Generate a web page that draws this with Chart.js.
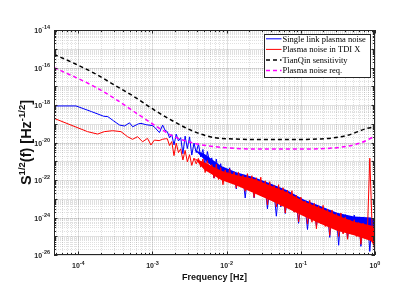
<!DOCTYPE html>
<html>
<head>
<meta charset="utf-8">
<script src="https://cdn.jsdelivr.net/npm/chart.js@4.4.0/dist/chart.umd.min.js"></script>
<style>
  html, body { margin: 0; padding: 0; background: #ffffff; }
  #plasmaChart { display: block; }
</style>
</head>
<body>
<canvas id="plasmaChart" width="415" height="301"></canvas>
<script>
/* ============================================
   PLASMA NOISE vs TIANQIN SENSITIVITY (log-log)
   values are log10 of S^{1/2}(f) in Hz^{-1/2}
   ============================================ */

// Single link plasma noise, low-frequency part
const blueLowFreq = [4.7e-5, 9.3e-5, 1.5e-4, 2.2e-4, 2.5e-4, 3.0e-4, 3.6e-4, 4.2e-4, 4.9e-4, 5.4e-4, 6.5e-4, 7.0e-4, 8.2e-4, 1.0e-3, 1.07e-3, 1.24e-3, 1.37e-3, 1.48e-3];
const blueLowLog = [-18.05, -18.05, -18.35, -18.6, -18.62, -18.85, -19.07, -19.12, -18.95, -19.16, -19.0, -18.98, -19.05, -19.1, -19.19, -19.47, -19.07, -19.35];

// Plasma noise in TDI X, low-frequency part
const redLowFreq = [4.7e-5, 1.33e-4, 1.82e-4, 2.24e-4, 2.9e-4, 3.76e-4, 4.61e-4, 5.38e-4, 6.3e-4, 7.35e-4, 8.57e-4, 9.53e-4, 1.06e-3, 1.23e-3, 1.36e-3, 1.49e-3];
const redLowLog = [-18.71, -19.42, -19.55, -19.42, -19.37, -19.42, -19.69, -19.83, -19.69, -19.96, -19.78, -20.13, -19.87, -19.9, -19.83, -19.8];

// Noisy high-frequency part (shared frequency bins)
const noiseFreq = [1.585e-3, 1.698e-3, 1.820e-3, 1.950e-3, 2.089e-3, 2.239e-3, 2.399e-3, 2.570e-3, 2.754e-3, 2.951e-3,
    3.162e-3, 3.388e-3, 3.631e-3, 3.890e-3, 4.169e-3, 4.467e-3, 4.786e-3, 5.129e-3, 5.495e-3, 5.888e-3,
    6.310e-3, 6.761e-3, 7.244e-3, 7.762e-3, 8.318e-3, 8.913e-3, 9.550e-3, 1.023e-2, 1.096e-2, 1.175e-2,
    1.259e-2, 1.349e-2, 1.445e-2, 1.549e-2, 1.660e-2, 1.778e-2, 1.905e-2, 2.042e-2, 2.188e-2, 2.344e-2,
    2.512e-2, 2.692e-2, 2.884e-2, 3.090e-2, 3.311e-2, 3.548e-2, 3.802e-2, 4.074e-2, 4.365e-2, 4.677e-2,
    5.012e-2, 5.370e-2, 5.754e-2, 6.166e-2, 6.607e-2, 7.079e-2, 7.586e-2, 8.128e-2, 8.710e-2, 9.333e-2,
    0.1, 0.1072, 0.1148, 0.1230, 0.1318, 0.1413, 0.1514, 0.1622, 0.1738, 0.1862,
    0.1995, 0.2138, 0.2291, 0.2455, 0.2630, 0.2818, 0.3020, 0.3236, 0.3467, 0.3715,
    0.3981, 0.4266, 0.4571, 0.4898, 0.5248, 0.5623, 0.6026, 0.6457, 0.6918, 0.7413,
    0.7943, 0.8511, 0.9120, 0.9772, 1.0];

const blueNoiseLog = [-19.42, -19.75, -19.58, -20.13, -19.55, -19.92, -19.74, -20.6, -19.66, -20.32,
    -19.7, -20.67, -20.03, -20.54, -20.07, -20.77, -20.37, -21.32, -20.48, -21.03,
    -20.82, -21.9, -20.88, -21.63, -21.13, -21.99, -21.4, -21.78, -21.35, -21.94,
    -21.58, -22.48, -21.62, -22.06, -21.88, -22.96, -21.88, -22.56, -21.91, -22.95,
    -22.18, -22.7, -22.15, -22.89, -22.38, -23.54, -22.43, -22.97, -22.7, -23.93,
    -22.7, -23.44, -22.74, -23.79, -23.01, -23.52, -22.98, -23.7, -23.22, -24.31,
    -23.26, -23.76, -23.52, -24.64, -23.47, -24.15, -23.46, -24.46, -23.68, -24.17,
    -23.6, -24.36, -23.8, -25.06, -23.8, -24.42, -23.95, -25.48, -23.9, -24.82,
    -23.85, -25.13, -23.98, -24.74, -23.87, -24.86, -24.01, -25.54, -23.97, -24.75,
    -24.14, -25.81, -24.13, -25.22, -24.3];

const redNoiseLog = [-19.8, -20.16, -19.95, -20.7, -20.03, -20.54, -20.34, -20.93, -20.42, -21.03,
    -20.65, -21.22, -20.83, -21.14, -20.85, -21.31, -20.88, -21.6, -20.96, -21.54,
    -21.18, -21.9, -21.16, -21.97, -21.34, -22.25, -21.46, -22.07, -21.41, -22.16,
    -21.58, -22.43, -21.59, -22.23, -21.74, -22.6, -21.66, -22.59, -21.77, -22.93,
    -21.88, -22.72, -21.85, -22.88, -22.04, -23.33, -22.09, -22.98, -22.28, -23.44,
    -22.25, -23.39, -22.41, -23.76, -22.55, -23.51, -22.57, -23.72, -22.81, -24.23,
    -22.91, -23.87, -23.12, -24.35, -23.08, -24.25, -23.24, -24.6, -23.38, -24.32,
    -23.35, -24.48, -23.56, -24.95, -23.6, -24.55, -23.8, -25.01, -23.76, -24.88,
    -23.97, -25.16, -24.12, -24.89, -24.12, -25.01, -24.27, -25.43, -24.3, -25.05,
    -24.45, -20.84, -24.44, -25.58, -25.9];

// Dense core of the noise, where the spectra fill a band
const bandFreq = [3.7e-3, 4.98e-3, 8.44e-3, 1.38e-2, 2.35e-2, 3.97e-2, 6.53e-2, 0.111, 0.187, 0.308, 0.521, 0.883, 1.0];
const blueBandHi = [-20.4, -20.6, -21.25, -21.6, -21.85, -22.2, -22.55, -23.05, -23.4, -23.75, -23.95, -24.0, -24.2];
const blueBandLo = [-20.4, -20.9, -21.7, -22.1, -22.6, -23.0, -23.4, -23.8, -24.2, -24.6, -24.8, -25.0, -25.1];
const redBandHi = [-20.85, -21.05, -21.5, -21.75, -21.95, -22.3, -22.65, -23.15, -23.5, -23.88, -24.22, -24.42, -24.5];
const redBandLo = [-20.85, -21.45, -22.0, -22.3, -22.7, -23.1, -23.5, -23.95, -24.35, -24.7, -24.95, -25.25, -25.6];

// TianQin sensitivity
const sensFreq = [4.7e-5, 8.8e-5, 1.65e-4, 3.05e-4, 5.68e-4, 1.06e-3, 1.96e-3, 3.65e-3, 6.79e-3, 1.26e-2, 2.34e-2, 6.6e-2, 0.186, 0.424, 0.787, 1.0];
const sensLog = [-15.30, -15.78, -16.31, -16.93, -17.56, -18.27, -18.89, -19.42, -19.74, -19.81, -19.84, -19.84, -19.81, -19.62, -19.24, -19.16];

// Plasma noise requirement
const reqFreq = [4.7e-5, 8.8e-5, 1.65e-4, 3.05e-4, 5.68e-4, 1.06e-3, 1.96e-3, 3.65e-3, 6.79e-3, 1.26e-2, 2.34e-2, 6.6e-2, 0.186, 0.424, 0.66, 0.85, 1.0];
const reqLog = [-16.01, -16.49, -17.02, -17.64, -18.36, -19.07, -19.69, -20.04, -20.22, -20.31, -20.35, -20.35, -20.33, -20.2, -20.0, -19.8, -19.65];

// Axis ticks
const xTickValues = [1e-4, 1e-3, 1e-2, 1e-1, 1];
const xTickExp = ['-4', '-3', '-2', '-1', '0'];
const yTickValues = [1e-26, 1e-24, 1e-22, 1e-20, 1e-18, 1e-16, 1e-14];
const yTickExp = ['-26', '-24', '-22', '-20', '-18', '-16', '-14'];

const INK = '#262626';

function toPoints(freqs, logs) {
    return freqs.map((f, i) => ({ x: f, y: Math.pow(10, logs[i]) }));
}

// major (decade) and minor (2..9) tick values inside [min, max]
function logTicks(min, max) {
    const major = [], minor = [];
    for (let e = Math.floor(Math.log10(min)); e <= Math.ceil(Math.log10(max)); e++) {
        for (let m = 1; m < 10; m++) {
            const v = m * Math.pow(10, e);
            if (v < min * 0.999 || v > max * 1.001) continue;
            (m === 1 ? major : minor).push(v);
        }
    }
    return { major, minor };
}

function drawPower(ctx, exp, anchorX, tickY, align, baseDy, supDy) {
    const baseFont = 'bold 7px "Liberation Sans", Arial, sans-serif';
    const supFont = 'bold 5.5px "Liberation Sans", Arial, sans-serif';
    ctx.font = baseFont;
    const w1 = ctx.measureText('10').width;
    ctx.font = supFont;
    const w2 = ctx.measureText(exp).width;
    let left = align === 'right' ? anchorX - w1 - w2 : anchorX - (w1 + w2) / 2;
    ctx.textAlign = 'left';
    ctx.textBaseline = 'middle';
    ctx.font = baseFont;
    ctx.fillText('10', left, tickY + baseDy);
    ctx.font = supFont;
    ctx.fillText(exp, left + w1, tickY + supDy);
}

const plasmaFrame = {
    id: 'plasmaFrame',
    beforeDraw(chart) {
        const ctx = chart.ctx;
        ctx.save();
        ctx.fillStyle = '#ffffff';
        ctx.fillRect(0, 0, chart.width, chart.height);
        ctx.restore();
    },
    beforeDatasetsDraw(chart) {
        const { ctx, chartArea: a, scales: { x, y } } = chart;
        const xt = logTicks(x.min, x.max);
        const yt = logTicks(y.min, y.max);
        ctx.save();
        ctx.lineWidth = 1;

        // minor grid (dotted)
        ctx.strokeStyle = 'rgba(38,38,38,0.14)';
        ctx.setLineDash([1, 1]);
        ctx.beginPath();
        xt.minor.forEach(v => {
            const px = Math.round(x.getPixelForValue(v)) + 0.5;
            ctx.moveTo(px, a.top); ctx.lineTo(px, a.bottom);
        });
        yt.minor.forEach(v => {
            const py = Math.round(y.getPixelForValue(v)) + 0.5;
            ctx.moveTo(a.left, py); ctx.lineTo(a.right, py);
        });
        ctx.stroke();

        // major grid
        ctx.setLineDash([]);
        ctx.strokeStyle = 'rgba(38,38,38,0.14)';
        ctx.beginPath();
        xt.major.forEach(v => {
            const px = Math.round(x.getPixelForValue(v)) + 0.5;
            ctx.moveTo(px, a.top); ctx.lineTo(px, a.bottom);
        });
        yt.major.forEach(v => {
            const py = Math.round(y.getPixelForValue(v)) + 0.5;
            ctx.moveTo(a.left, py); ctx.lineTo(a.right, py);
        });
        ctx.stroke();
        ctx.restore();
    },
    afterDatasetsDraw(chart) {
        const { ctx, chartArea: a, scales: { x, y } } = chart;
        const xt = logTicks(x.min, x.max);
        const yt = logTicks(y.min, y.max);
        ctx.save();

        // box
        ctx.strokeStyle = INK;
        ctx.lineWidth = 1;
        ctx.strokeRect(a.left + 0.5, a.top + 0.5, a.right - a.left - 1, a.bottom - a.top - 1);

        // inward tick marks on all four sides
        ctx.beginPath();
        const xTick = (v, len) => {
            const px = Math.round(x.getPixelForValue(v)) + 0.5;
            ctx.moveTo(px, a.bottom); ctx.lineTo(px, a.bottom - len);
            ctx.moveTo(px, a.top); ctx.lineTo(px, a.top + len);
        };
        const yTick = (v, len) => {
            const py = Math.round(y.getPixelForValue(v)) + 0.5;
            ctx.moveTo(a.left, py); ctx.lineTo(a.left + len, py);
            ctx.moveTo(a.right, py); ctx.lineTo(a.right - len, py);
        };
        xt.major.forEach(v => xTick(v, 3.5));
        xt.minor.forEach(v => xTick(v, 2));
        yt.major.forEach(v => yTick(v, 3.5));
        yt.minor.forEach(v => yTick(v, 2));
        ctx.stroke();

        // tick labels
        ctx.fillStyle = INK;
        xTickValues.forEach((v, i) => {
            drawPower(ctx, xTickExp[i], x.getPixelForValue(v), a.bottom, 'center', 11.5, 8);
        });
        yTickValues.forEach((v, i) => {
            drawPower(ctx, yTickExp[i], a.left - 4, y.getPixelForValue(v), 'right', 1.5, -2.5);
        });

        // axis titles
        ctx.fillStyle = '#111111';
        ctx.font = 'bold 9px "Liberation Sans", Arial, sans-serif';
        ctx.textAlign = 'center';
        ctx.textBaseline = 'middle';
        ctx.fillText('Frequency [Hz]', (a.left + a.right) / 2, 277.5);

        const big = 'bold 14.5px "Liberation Sans", Arial, sans-serif';
        const small = 'bold 9.5px "Liberation Sans", Arial, sans-serif';
        const parts = [['S', big, 0], ['1/2', small, -6.5], ['(f) [Hz', big, 0], ['-1/2', small, -6.5], [']', big, 0]];
        let total = 0;
        parts.forEach(p => { ctx.font = p[1]; p.push(ctx.measureText(p[0]).width); total += p[3]; });
        ctx.translate(31, (a.top + a.bottom) / 2);
        ctx.rotate(-Math.PI / 2);
        ctx.textAlign = 'left';
        ctx.textBaseline = 'alphabetic';
        let cx = -total / 2;
        parts.forEach(p => {
            ctx.font = p[1];
            ctx.fillText(p[0], cx, p[2]);
            cx += p[3];
        });
        ctx.restore();

        // legend box
        ctx.save();
        const lx = 264.5, ly = 34.5, lw = 106, lh = 43;
        ctx.fillStyle = '#ffffff';
        ctx.fillRect(lx, ly, lw, lh);
        ctx.strokeStyle = INK;
        ctx.lineWidth = 1;
        ctx.strokeRect(lx, ly, lw, lh);
        ctx.font = '8.5px "Liberation Serif", "Times New Roman", serif';
        ctx.textAlign = 'left';
        ctx.textBaseline = 'middle';
        chart.data.datasets.filter(ds => ds.inLegend).forEach((ds, i) => {
            const ry = 38.8 + i * 10.6;
            ctx.strokeStyle = ds.borderColor;
            ctx.lineWidth = ds.borderWidth;
            ctx.setLineDash(ds.borderDash || []);
            ctx.beginPath();
            ctx.moveTo(266, ry);
            ctx.lineTo(281.5, ry);
            ctx.stroke();
            ctx.fillStyle = '#000000';
            ctx.fillText(ds.label, 282.5, ry + 0.5);
        });
        ctx.restore();
    }
};

const blueData = toPoints(blueLowFreq, blueLowLog).concat(toPoints(noiseFreq, blueNoiseLog));
const redData = toPoints(redLowFreq, redLowLog).concat(toPoints(noiseFreq, redNoiseLog));

new Chart(document.getElementById('plasmaChart'), {
    type: 'line',
    data: {
        datasets: [{
            label: 'Single link plasma noise',
            inLegend: true,
            data: blueData,
            borderColor: '#0000ff',
            borderWidth: 1,
            order: 5
        }, {
            label: 'Plasma noise in TDI X',
            inLegend: true,
            data: redData,
            borderColor: '#ff0000',
            borderWidth: 1,
            order: 3
        }, {
            label: 'TianQin sensitivity',
            inLegend: true,
            data: toPoints(sensFreq, sensLog),
            borderColor: '#000000',
            borderWidth: 1.5,
            borderDash: [4, 3],
            cubicInterpolationMode: 'monotone',
            order: 1
        }, {
            label: 'Plasma noise req.',
            inLegend: true,
            data: toPoints(reqFreq, reqLog),
            borderColor: '#ff00ff',
            borderWidth: 1.5,
            borderDash: [4, 3],
            cubicInterpolationMode: 'monotone',
            order: 2
        }, {
            label: 'single link core',
            data: toPoints(bandFreq, blueBandHi),
            borderWidth: 0,
            borderColor: 'rgba(0,0,0,0)',
            backgroundColor: '#0000ff',
            fill: '+1',
            order: 6
        }, {
            label: 'single link core low',
            data: toPoints(bandFreq, blueBandLo),
            borderWidth: 0,
            borderColor: 'rgba(0,0,0,0)',
            order: 6
        }, {
            label: 'TDI X core',
            data: toPoints(bandFreq, redBandHi),
            borderWidth: 0,
            borderColor: 'rgba(0,0,0,0)',
            backgroundColor: '#ff0000',
            fill: '+1',
            order: 4
        }, {
            label: 'TDI X core low',
            data: toPoints(bandFreq, redBandLo),
            borderWidth: 0,
            borderColor: 'rgba(0,0,0,0)',
            order: 4
        }]
    },
    options: {
        responsive: false,
        devicePixelRatio: 1,
        animation: false,
        layout: { padding: { left: 54, right: 40, top: 30, bottom: 46 } },
        elements: { point: { radius: 0 }, line: { tension: 0 } },
        plugins: { legend: { display: false }, tooltip: { enabled: false } },
        scales: {
            x: { type: 'logarithmic', min: 4.7e-5, max: 1, display: false },
            y: { type: 'logarithmic', min: 1e-26, max: 1e-14, display: false }
        }
    },
    plugins: [plasmaFrame]
});
</script>
</body>
</html>
